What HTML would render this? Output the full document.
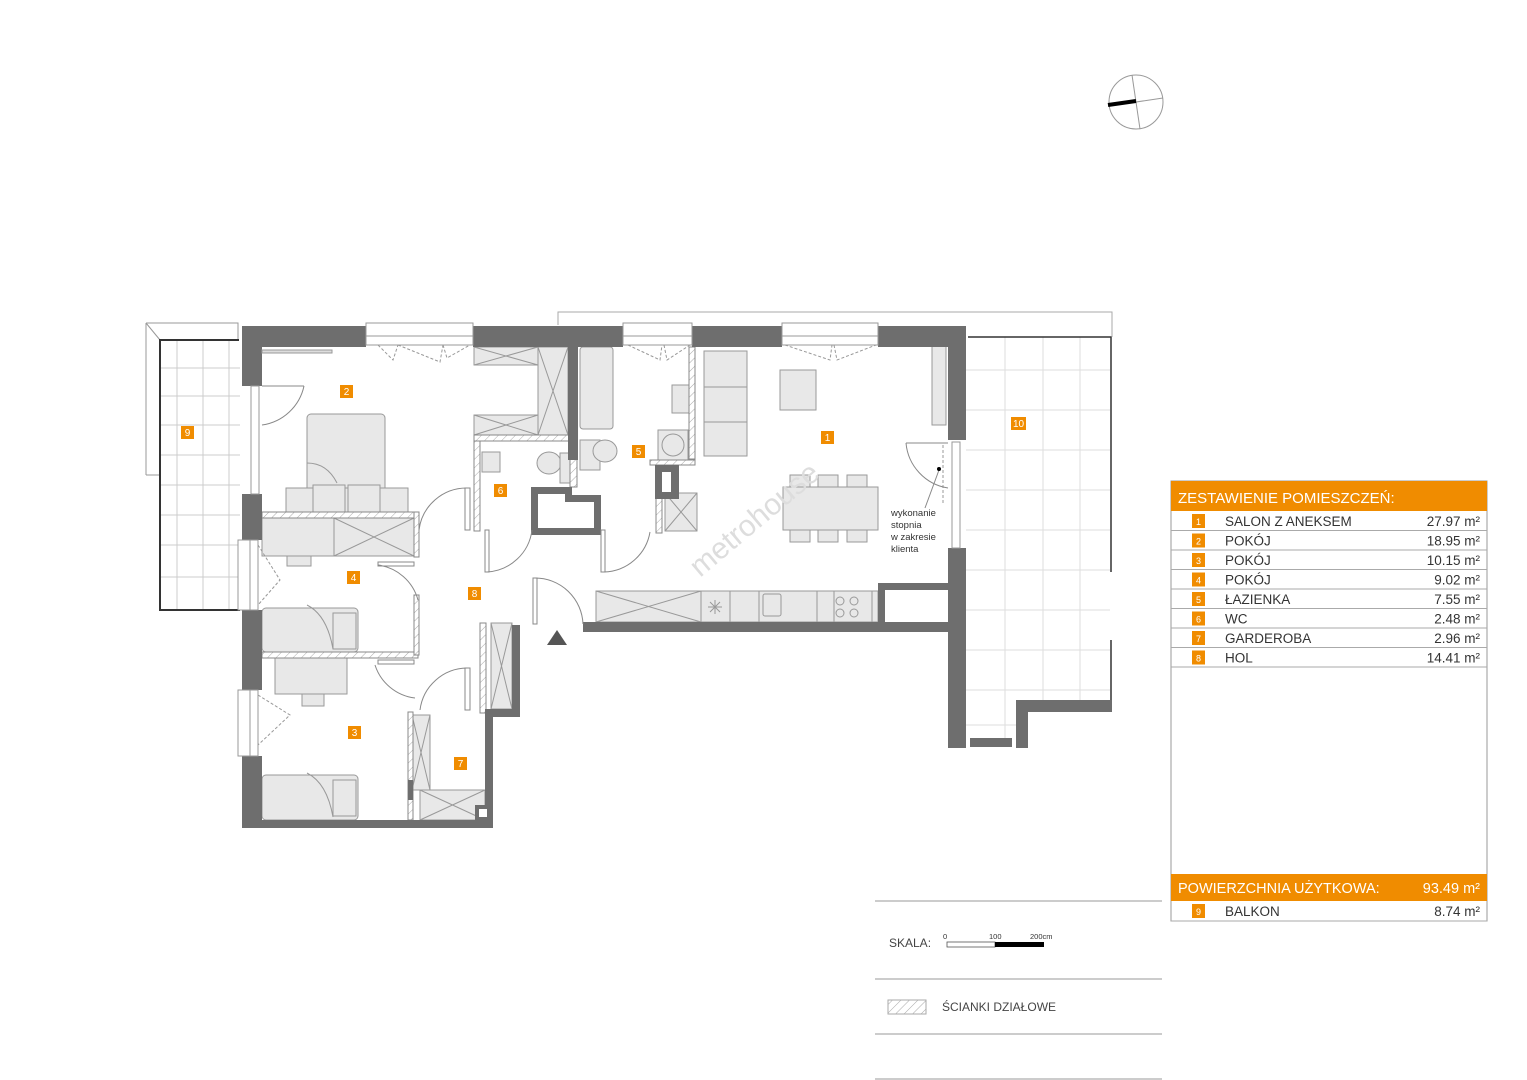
<!DOCTYPE html>
<html><head><meta charset="utf-8"><style>
html,body{margin:0;padding:0;background:#fff;}
svg{display:block;font-family:"Liberation Sans",Arial,sans-serif;}
</style></head><body>
<svg width="1527" height="1080" viewBox="0 0 1527 1080" xmlns="http://www.w3.org/2000/svg">
<defs>
<pattern id="h" width="6" height="6" patternUnits="userSpaceOnUse" patternTransform="rotate(45)"><rect width="6" height="6" fill="#fff"/><line x1="0" y1="0" x2="0" y2="6" stroke="#aaa" stroke-width="1"/></pattern>
</defs>
<!-- compass -->
<circle cx="1136" cy="102" r="27" fill="none" stroke="#999" stroke-width="1"/>
<line x1="1132" y1="75" x2="1140" y2="129" stroke="#999"/>
<line x1="1109" y1="106" x2="1163" y2="98" stroke="#999"/>
<line x1="1108" y1="105" x2="1136" y2="101" stroke="#000" stroke-width="4"/>

<!-- balcony 9 -->
<g stroke="#ccc" stroke-width="1" fill="none">
<polyline points="146,323 238,323 238,340" stroke="#999"/>
<line x1="146" y1="323" x2="146" y2="475" stroke="#999"/>
<line x1="146" y1="475" x2="160" y2="475" stroke="#999"/>
<line x1="146" y1="323" x2="160" y2="340" stroke="#999"/>
<line x1="177" y1="340" x2="177" y2="610"/><line x1="203" y1="340" x2="203" y2="610"/><line x1="229" y1="340" x2="229" y2="610"/>
<line x1="160" y1="368" x2="240" y2="368"/><line x1="160" y1="396" x2="240" y2="396"/><line x1="160" y1="425" x2="240" y2="425"/><line x1="160" y1="455" x2="240" y2="455"/><line x1="160" y1="485" x2="240" y2="485"/><line x1="160" y1="515" x2="240" y2="515"/><line x1="160" y1="545" x2="240" y2="545"/><line x1="160" y1="577" x2="240" y2="577"/>
</g>
<polyline points="239,340 160,340 160,610 240,610" fill="none" stroke="#333" stroke-width="2"/>

<!-- balcony 10 -->
<g stroke="#ddd" stroke-width="1" fill="none">
<line x1="1005" y1="337" x2="1005" y2="738"/><line x1="1043" y1="337" x2="1043" y2="700"/><line x1="1080" y1="337" x2="1080" y2="700"/>
<line x1="966" y1="370" x2="1110" y2="370"/><line x1="966" y1="410" x2="1110" y2="410"/><line x1="966" y1="450" x2="1110" y2="450"/><line x1="966" y1="490" x2="1110" y2="490"/><line x1="966" y1="530" x2="1110" y2="530"/><line x1="966" y1="570" x2="1110" y2="570"/><line x1="966" y1="610" x2="1110" y2="610"/><line x1="966" y1="650" x2="1110" y2="650"/><line x1="966" y1="690" x2="1110" y2="690"/><line x1="966" y1="725" x2="1016" y2="725"/>
</g>
<polyline points="968,337 1111,337 1111,572" fill="none" stroke="#333" stroke-width="1.5"/>
<line x1="1111" y1="640" x2="1111" y2="700" stroke="#333" stroke-width="1.5"/>
<polyline points="558,325 558,312 1112,312 1112,337" fill="none" stroke="#aaa"/>
<rect x="1016" y="700" width="96" height="12" fill="#6e6e6e"/>
<rect x="1016" y="700" width="12" height="48" fill="#6e6e6e"/>
<rect x="970" y="738" width="42" height="9" fill="#6e6e6e"/>

<!-- furniture -->
<g fill="#e8e8e8" stroke="#999" stroke-width="1">
<rect x="307" y="414" width="78" height="100" rx="4"/>
<rect x="286" y="488" width="122" height="24"/>
<rect x="313" y="485" width="32" height="27"/><rect x="348" y="485" width="32" height="27"/>
<rect x="474" y="347" width="64" height="18"/><rect x="538" y="347" width="30" height="88"/><rect x="474" y="415" width="64" height="20"/>
<rect x="262" y="518" width="72" height="38"/><rect x="334" y="518" width="80" height="38"/><rect x="287" y="556" width="24" height="10"/>
<rect x="262" y="608" width="96" height="44" rx="4"/><rect x="333" y="613" width="23" height="36"/>
<rect x="275" y="658" width="72" height="36"/><rect x="302" y="694" width="22" height="12"/>
<rect x="262" y="775" width="96" height="45" rx="4"/><rect x="333" y="780" width="23" height="36"/>
<rect x="412" y="715" width="18" height="75"/><rect x="420" y="790" width="65" height="30"/>
<rect x="491" y="623" width="21" height="86"/>
<rect x="580" y="347" width="33" height="82" rx="3"/>
<rect x="580" y="440" width="20" height="30"/><ellipse cx="605" cy="451" rx="12" ry="11"/>
<ellipse cx="549" cy="463" rx="12" ry="11"/><rect x="560" y="453" width="10" height="30"/>
<rect x="482" y="452" width="18" height="20"/>
<rect x="672" y="385" width="22" height="28"/>
<rect x="658" y="430" width="30" height="30"/><circle cx="673" cy="445" r="11"/>
<rect x="665" y="493" width="32" height="38"/>
<rect x="704" y="351" width="43" height="105"/>
<rect x="780" y="370" width="36" height="40"/>
<rect x="932" y="345" width="14" height="80"/>
<rect x="783" y="487" width="95" height="43"/>
<rect x="790" y="475" width="20" height="12"/><rect x="818" y="475" width="20" height="12"/><rect x="847" y="475" width="20" height="12"/>
<rect x="790" y="530" width="20" height="12"/><rect x="818" y="530" width="20" height="12"/><rect x="847" y="530" width="20" height="12"/>
<rect x="596" y="591" width="282" height="31"/>
<rect x="701" y="591" width="29" height="31"/><rect x="759" y="591" width="58" height="31"/><rect x="834" y="591" width="38" height="31"/>
</g>
<g stroke="#999" fill="none">
<path d="M474,347 L538,365 M538,347 L474,365 M538,347 L568,435 M568,347 L538,435 M474,415 L538,435 M538,415 L474,435"/>
<path d="M334,518 L414,556 M414,518 L334,556"/>
<path d="M412,715 L430,790 M430,715 L412,790 M420,790 L485,820 M485,790 L420,820"/>
<path d="M491,623 L512,709 M512,623 L491,709 M665,493 L697,531 M697,493 L665,531"/>
<path d="M596,591 L701,622 M701,591 L596,622"/>
<circle cx="840" cy="601" r="4"/><circle cx="854" cy="601" r="4"/><circle cx="840" cy="613" r="4"/><circle cx="854" cy="613" r="4"/>
<rect x="763" y="594" width="18" height="22" rx="2"/>
<path d="M715,600 v14 M708,607 h14 M710,602 l10,10 M720,602 l-10,10"/>
<path d="M307,463 q20,0 30,20 M307,605 q20,10 26,44 M307,773 q20,10 26,44"/>
<path d="M704,387 h43 M704,422 h43"/>
</g>

<!-- partition hatched walls -->
<g fill="url(#h)" stroke="#888" stroke-width="1">
<rect x="262" y="512" width="156" height="6"/>
<rect x="414" y="512" width="5" height="45"/>
<rect x="262" y="652" width="156" height="6"/>
<rect x="414" y="595" width="5" height="60"/>
<rect x="474" y="435" width="98" height="6"/>
<rect x="474" y="441" width="6" height="90"/>
<rect x="570" y="440" width="7" height="47"/>
<rect x="689" y="347" width="6" height="112"/>
<rect x="650" y="460" width="45" height="5"/>
<rect x="656" y="495" width="6" height="38"/>
<rect x="408" y="712" width="5" height="108"/>
<rect x="480" y="623" width="6" height="90"/>
</g>

<!-- walls -->
<g fill="#6e6e6e">
<rect x="242" y="326" width="124" height="21"/>
<rect x="473" y="326" width="150" height="21"/>
<rect x="692" y="326" width="90" height="21"/>
<rect x="878" y="326" width="88" height="21"/>
<rect x="242" y="326" width="20" height="60"/>
<rect x="242" y="494" width="20" height="46"/>
<rect x="242" y="610" width="20" height="80"/>
<rect x="242" y="756" width="20" height="72"/>
<rect x="242" y="820" width="251" height="8"/>
<rect x="485" y="713" width="8" height="115"/>
<rect x="485" y="709" width="35" height="8"/>
<rect x="512" y="625" width="8" height="92"/>
<rect x="568" y="345" width="10" height="115"/>
<rect x="948" y="326" width="18" height="114"/>
<rect x="948" y="548" width="18" height="200"/>
<rect x="583" y="622" width="383" height="10"/>
<rect x="878" y="583" width="7" height="40"/>
<rect x="878" y="583" width="72" height="7"/>
<rect x="655" y="465" width="24" height="34"/>
</g>
<rect x="662" y="472" width="9" height="20" fill="#fff"/>
<path d="M531,487 h41 v8 h29 v40 h-70 z M538,494 v34 h56 v-26 h-29 v-8 z" fill="#6e6e6e" fill-rule="evenodd"/>
<rect x="408" y="780" width="5" height="20" fill="#6e6e6e"/>
<rect x="475" y="805" width="18" height="15" fill="#6e6e6e"/><rect x="479" y="809" width="8" height="8" fill="#fff"/>

<!-- windows -->
<g fill="#fff" stroke="#999" stroke-width="1">
<rect x="366" y="323" width="107" height="13"/><rect x="366" y="336" width="107" height="9"/>
<rect x="623" y="323" width="69" height="13"/><rect x="623" y="336" width="69" height="9"/>
<rect x="782" y="323" width="96" height="13"/><rect x="782" y="336" width="96" height="9"/>
<rect x="251" y="386" width="8" height="108"/>
<rect x="238" y="540" width="12" height="70"/><rect x="250" y="540" width="8" height="70"/>
<rect x="238" y="690" width="12" height="66"/><rect x="250" y="690" width="8" height="66"/>
<rect x="952" y="442" width="8" height="106"/>
<rect x="262" y="350" width="70" height="3" fill="#ddd"/>
</g>
<g stroke="#999" fill="none" stroke-dasharray="3,2">
<path d="M378,345 L393,360 L398,345 M398,345 L440,362 L443,345 M443,345 L447,358 L470,345"/>
<path d="M628,345 L660,360 L662,345 M664,345 L667,360 L690,345"/>
<path d="M785,345 L830,360 L832,345 M834,345 L837,360 L876,345"/>
<path d="M258,545 L280,580 L258,605 M258,695 L290,715 L258,745"/>
<path d="M943,445 v60"/>
</g>

<!-- doors -->
<g stroke="#888" fill="none" stroke-width="1">
<path d="M262,425 A50,50 0 0 0 304,386"/><line x1="262" y1="386" x2="304" y2="386"/>
<path d="M419,530 A48,48 0 0 1 467,488"/><rect x="465" y="488" width="5" height="42"/>
<path d="M378,565 A48,48 0 0 1 418,600"/><rect x="378" y="562" width="36" height="4"/>
<path d="M487,572 A48,48 0 0 0 532,530"/><rect x="485" y="530" width="4" height="42"/>
<path d="M604,572 A48,48 0 0 0 650,532"/><rect x="601" y="530" width="4" height="42"/>
<path d="M375,665 A48,48 0 0 0 415,698"/><rect x="378" y="660" width="36" height="4"/>
<path d="M420,710 A48,48 0 0 1 467,668"/><rect x="465" y="668" width="5" height="42"/>
<path d="M535,578 A48,48 0 0 1 583,624"/><rect x="533" y="578" width="4" height="46"/>
<path d="M906,443 A50,50 0 0 0 948,488"/><line x1="906" y1="443" x2="948" y2="443"/>
<line x1="939" y1="470" x2="925" y2="508"/>
</g>
<circle cx="939" cy="469" r="2" fill="#000"/>
<polygon points="557,630 547,645 567,645" fill="#555"/>

<!-- watermark -->
<text x="700" y="578" transform="rotate(-40 700 578)" font-size="30" fill="#ddd">metrohouse</text>

<!-- room labels -->
<g font-size="10" fill="#fff" text-anchor="middle">
<rect x="340" y="385" width="13" height="13" fill="#f08c00"/><text x="346.5" y="395">2</text>
<rect x="181" y="426" width="13" height="13" fill="#f08c00"/><text x="187.5" y="436">9</text>
<rect x="347" y="571" width="13" height="13" fill="#f08c00"/><text x="353.5" y="581">4</text>
<rect x="348" y="726" width="13" height="13" fill="#f08c00"/><text x="354.5" y="736">3</text>
<rect x="454" y="757" width="13" height="13" fill="#f08c00"/><text x="460.5" y="767">7</text>
<rect x="468" y="587" width="13" height="13" fill="#f08c00"/><text x="474.5" y="597">8</text>
<rect x="494" y="484" width="13" height="13" fill="#f08c00"/><text x="500.5" y="494">6</text>
<rect x="632" y="445" width="13" height="13" fill="#f08c00"/><text x="638.5" y="455">5</text>
<rect x="821" y="431" width="13" height="13" fill="#f08c00"/><text x="827.5" y="441">1</text>
<rect x="1011" y="417" width="15" height="13" fill="#f08c00"/><text x="1018.5" y="427">10</text>
</g>
<g font-size="9.5" fill="#333">
<text x="891" y="516">wykonanie</text><text x="891" y="528">stopnia</text><text x="891" y="540">w zakresie</text><text x="891" y="552">klienta</text>
</g>

<!-- table -->
<rect x="1171" y="481" width="316" height="440" fill="none" stroke="#999"/>
<rect x="1171" y="481" width="316" height="30" fill="#f08c00"/>
<text x="1178" y="503" font-size="15" fill="#fff">ZESTAWIENIE POMIESZCZEŃ:</text>
<g font-size="13.5" fill="#333">
<g stroke="#aaa"><line x1="1171" y1="530.5" x2="1487" y2="530.5"/><line x1="1171" y1="550" x2="1487" y2="550"/><line x1="1171" y1="569.5" x2="1487" y2="569.5"/><line x1="1171" y1="589" x2="1487" y2="589"/><line x1="1171" y1="608.5" x2="1487" y2="608.5"/><line x1="1171" y1="628" x2="1487" y2="628"/><line x1="1171" y1="647.5" x2="1487" y2="647.5"/><line x1="1171" y1="667" x2="1487" y2="667"/></g>
<g fill="#f08c00"><rect x="1192" y="514" width="13" height="14"/><rect x="1192" y="533.5" width="13" height="14"/><rect x="1192" y="553" width="13" height="14"/><rect x="1192" y="572.5" width="13" height="14"/><rect x="1192" y="592" width="13" height="14"/><rect x="1192" y="611.5" width="13" height="14"/><rect x="1192" y="631" width="13" height="14"/><rect x="1192" y="650.5" width="13" height="14"/></g>
<g font-size="9" fill="#fff" text-anchor="middle"><text x="1198.5" y="525">1</text><text x="1198.5" y="544.5">2</text><text x="1198.5" y="564">3</text><text x="1198.5" y="583.5">4</text><text x="1198.5" y="603">5</text><text x="1198.5" y="622.5">6</text><text x="1198.5" y="642">7</text><text x="1198.5" y="661.5">8</text></g>
<text x="1225" y="526">SALON Z ANEKSEM</text><text x="1225" y="545.5">POKÓJ</text><text x="1225" y="565">POKÓJ</text><text x="1225" y="584.5">POKÓJ</text><text x="1225" y="604">ŁAZIENKA</text><text x="1225" y="623.5">WC</text><text x="1225" y="643">GARDEROBA</text><text x="1225" y="662.5">HOL</text>
<g text-anchor="end"><text x="1480" y="526">27.97 m²</text><text x="1480" y="545.5">18.95 m²</text><text x="1480" y="565">10.15 m²</text><text x="1480" y="584.5">9.02 m²</text><text x="1480" y="604">7.55 m²</text><text x="1480" y="623.5">2.48 m²</text><text x="1480" y="643">2.96 m²</text><text x="1480" y="662.5">14.41 m²</text></g>
</g>
<rect x="1171" y="874" width="316" height="27" fill="#f08c00"/>
<text x="1178" y="893" font-size="14.5" fill="#fff">POWIERZCHNIA UŻYTKOWA:</text>
<text x="1480" y="893" font-size="14.5" fill="#fff" text-anchor="end">93.49 m²</text>
<line x1="1171" y1="921" x2="1487" y2="921" stroke="#aaa"/>
<rect x="1192" y="904" width="13" height="14" fill="#f08c00"/><text x="1198.5" y="915" font-size="9" fill="#fff" text-anchor="middle">9</text>
<text x="1225" y="916" font-size="13.5" fill="#333">BALKON</text><text x="1480" y="916" font-size="13.5" fill="#333" text-anchor="end">8.74 m²</text>

<!-- legend -->
<g stroke="#999"><line x1="875" y1="901" x2="1162" y2="901"/><line x1="875" y1="979" x2="1162" y2="979"/><line x1="875" y1="1034" x2="1162" y2="1034"/><line x1="875" y1="1079" x2="1162" y2="1079"/></g>
<text x="889" y="947" font-size="12" fill="#444">SKALA:</text>
<text x="943" y="939" font-size="7.5" fill="#333">0</text><text x="989" y="939" font-size="7.5" fill="#333">100</text><text x="1030" y="939" font-size="7.5" fill="#333">200cm</text>
<rect x="947" y="942" width="48" height="5" fill="#fff" stroke="#555" stroke-width="0.8"/><rect x="995" y="942" width="49" height="5" fill="#000"/>
<rect x="888" y="1000" width="38" height="14" fill="url(#h)" stroke="#aaa"/>
<text x="942" y="1011" font-size="12" fill="#444">ŚCIANKI DZIAŁOWE</text>
</svg>
</body></html>
